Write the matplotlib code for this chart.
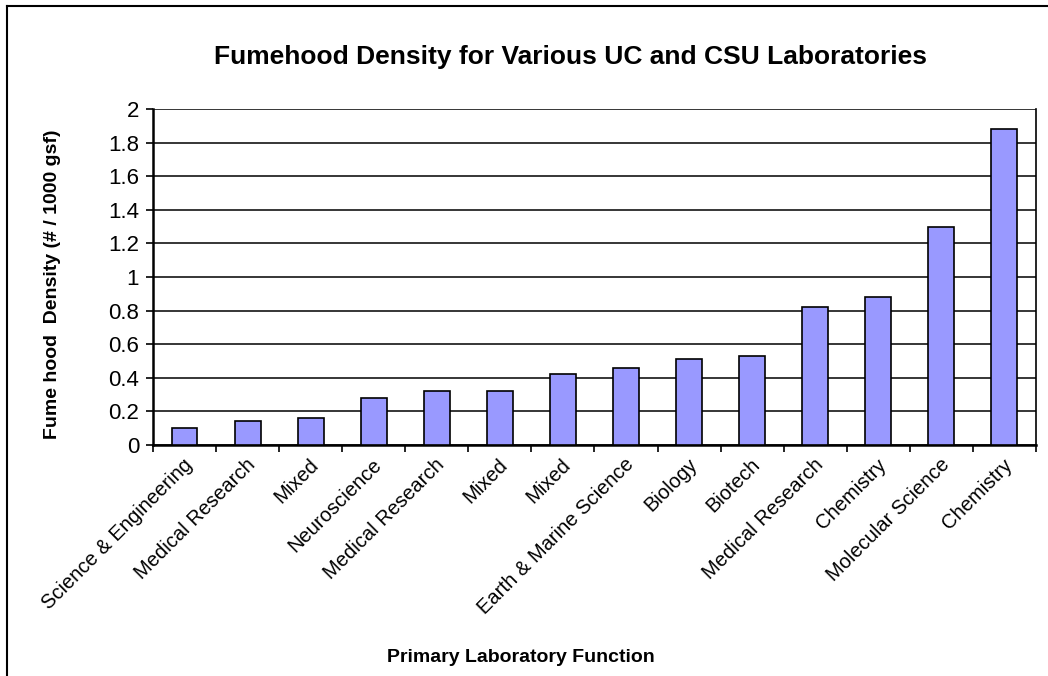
import matplotlib.pyplot as plt
from matplotlib.lines import Line2D
from matplotlib.transforms import ScaledTranslation
import numpy as np

plt.rcParams["font.family"] = ["Liberation Sans", "DejaVu Sans"]

functions = [
    "Science & Engineering", "Medical Research", "Mixed", "Neuroscience",
    "Medical Research", "Mixed", "Mixed", "Earth & Marine Science",
    "Biology", "Biotech", "Medical Research", "Chemistry",
    "Molecular Science", "Chemistry",
]
density = [0.10, 0.14, 0.16, 0.28, 0.32, 0.32, 0.42, 0.46, 0.51, 0.53, 0.82, 0.88, 1.30, 1.88]
yticks = [0, 0.2, 0.4, 0.6, 0.8, 1, 1.2, 1.4, 1.6, 1.8, 2]
ytick_labels = ["0", "0.2", "0.4", "0.6", "0.8", "1", "1.2", "1.4", "1.6", "1.8", "2"]

fig = plt.figure(figsize=(10.48, 6.76), dpi=100)
ax = fig.add_axes([0.146, 0.3417, 0.8425, 0.4971])

x = np.arange(len(functions))
ax.bar(x, density, width=0.41, color="#9999FF", edgecolor="black", linewidth=1.2, zorder=3)

ax.set_xlim(-0.5, len(functions) - 0.5)
ax.set_ylim(0, 2)
ax.set_yticks(yticks)
ax.set_yticklabels(ytick_labels, fontsize=16)
ax.yaxis.grid(True, color="black", linewidth=1.1, zorder=0)

ax.set_xticks(x)
ax.set_xticklabels(functions, rotation=45, ha="right", va="center",
                   rotation_mode="anchor", fontsize=14.5)
ax.tick_params(axis="x", which="major", length=0, pad=12)
ax.set_xticks(np.arange(-0.5, len(functions)), minor=True)
ax.tick_params(axis="x", which="minor", length=5, width=1.2, direction="out")
ax.tick_params(axis="y", length=5, width=1.2, direction="out", pad=5)
offset = ScaledTranslation(0.05, 0, fig.dpi_scale_trans)
for lbl in ax.get_xticklabels():
    lbl.set_transform(lbl.get_transform() + offset)

for side in ["left", "bottom"]:
    ax.spines[side].set_linewidth(1.8)
ax.spines["right"].set_linewidth(1.2)
ax.spines["top"].set_visible(False)

fig.text(0.544, 0.916, "Fumehood Density for Various UC and CSU Laboratories",
         ha="center", va="center", fontsize=19, fontweight="bold")
fig.text(0.497, 0.027, "Primary Laboratory Function",
         ha="center", va="center", fontsize=14, fontweight="bold")
fig.text(0.05, 0.58, "Fume hood  Density (# / 1000 gsf)", rotation=90,
         ha="center", va="center", fontsize=14, fontweight="bold")

# outer chart frame (cut off at the right and bottom edges)
fig.add_artist(Line2D([0.0067, 1.0], [0.991, 0.991], color="black", linewidth=1.5))
fig.add_artist(Line2D([0.0067, 0.0067], [0.0, 0.991], color="black", linewidth=1.5))

fig.savefig("out.png", dpi=100)
